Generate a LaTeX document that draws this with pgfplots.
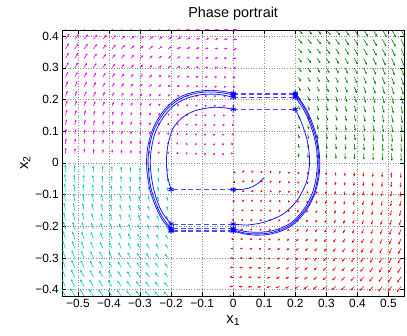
\documentclass[border=0pt]{standalone}
\usepackage{fontspec}
\setmainfont{Liberation Sans}
\usepackage{pgfplots}
\usepackage{pgfplotstable}
\pgfplotsset{compat=1.18}
\usetikzlibrary{arrows.meta,calc}

\definecolor{qgreen}{rgb}{0,0.5,0}
\definecolor{qcyan}{rgb}{0,0.78,0.78}
\definecolor{qmag}{rgb}{0.95,0,0.95}
\definecolor{qred}{rgb}{1,0,0}
\definecolor{trajblue}{rgb}{0,0,1}
\definecolor{jumpblue}{rgb}{0.3,0.3,1}

\begin{document}
% quiver grids: x y v, the u component is the y column
\pgfplotstableread{
x y v
-0.54 0.42 0.54
-0.51 0.42 0.51
-0.48 0.42 0.48
-0.45 0.42 0.45
-0.42 0.42 0.42
-0.39 0.42 0.39
-0.36 0.42 0.36
-0.33 0.42 0.33
-0.30 0.42 0.30
-0.27 0.42 0.27
-0.24 0.42 0.24
-0.21 0.42 0.21
-0.18 0.42 0.18
-0.15 0.42 0.15
-0.12 0.42 0.12
-0.09 0.42 0.09
-0.06 0.42 0.06
-0.03 0.42 0.03
0 0.42 0
-0.54 0.39 0.54
-0.51 0.39 0.51
-0.48 0.39 0.48
-0.45 0.39 0.45
-0.42 0.39 0.42
-0.39 0.39 0.39
-0.36 0.39 0.36
-0.33 0.39 0.33
-0.30 0.39 0.30
-0.27 0.39 0.27
-0.24 0.39 0.24
-0.21 0.39 0.21
-0.18 0.39 0.18
-0.15 0.39 0.15
-0.12 0.39 0.12
-0.09 0.39 0.09
-0.06 0.39 0.06
-0.03 0.39 0.03
0 0.39 0
-0.54 0.36 0.54
-0.51 0.36 0.51
-0.48 0.36 0.48
-0.45 0.36 0.45
-0.42 0.36 0.42
-0.39 0.36 0.39
-0.36 0.36 0.36
-0.33 0.36 0.33
-0.30 0.36 0.30
-0.27 0.36 0.27
-0.24 0.36 0.24
-0.21 0.36 0.21
-0.18 0.36 0.18
-0.15 0.36 0.15
-0.12 0.36 0.12
-0.09 0.36 0.09
-0.06 0.36 0.06
-0.03 0.36 0.03
0 0.36 0
-0.54 0.33 0.54
-0.51 0.33 0.51
-0.48 0.33 0.48
-0.45 0.33 0.45
-0.42 0.33 0.42
-0.39 0.33 0.39
-0.36 0.33 0.36
-0.33 0.33 0.33
-0.30 0.33 0.30
-0.27 0.33 0.27
-0.24 0.33 0.24
-0.21 0.33 0.21
-0.18 0.33 0.18
-0.15 0.33 0.15
-0.12 0.33 0.12
-0.09 0.33 0.09
-0.06 0.33 0.06
-0.03 0.33 0.03
0 0.33 0
-0.54 0.30 0.54
-0.51 0.30 0.51
-0.48 0.30 0.48
-0.45 0.30 0.45
-0.42 0.30 0.42
-0.39 0.30 0.39
-0.36 0.30 0.36
-0.33 0.30 0.33
-0.30 0.30 0.30
-0.27 0.30 0.27
-0.24 0.30 0.24
-0.21 0.30 0.21
-0.18 0.30 0.18
-0.15 0.30 0.15
-0.12 0.30 0.12
-0.09 0.30 0.09
-0.06 0.30 0.06
-0.03 0.30 0.03
0 0.30 0
-0.54 0.27 0.54
-0.51 0.27 0.51
-0.48 0.27 0.48
-0.45 0.27 0.45
-0.42 0.27 0.42
-0.39 0.27 0.39
-0.36 0.27 0.36
-0.33 0.27 0.33
-0.30 0.27 0.30
-0.27 0.27 0.27
-0.24 0.27 0.24
-0.21 0.27 0.21
-0.18 0.27 0.18
-0.15 0.27 0.15
-0.12 0.27 0.12
-0.09 0.27 0.09
-0.06 0.27 0.06
-0.03 0.27 0.03
0 0.27 0
-0.54 0.24 0.54
-0.51 0.24 0.51
-0.48 0.24 0.48
-0.45 0.24 0.45
-0.42 0.24 0.42
-0.39 0.24 0.39
-0.36 0.24 0.36
-0.33 0.24 0.33
-0.30 0.24 0.30
-0.27 0.24 0.27
-0.24 0.24 0.24
-0.21 0.24 0.21
-0.18 0.24 0.18
-0.15 0.24 0.15
-0.12 0.24 0.12
-0.09 0.24 0.09
-0.06 0.24 0.06
-0.03 0.24 0.03
0 0.24 0
-0.54 0.21 0.54
-0.51 0.21 0.51
-0.48 0.21 0.48
-0.45 0.21 0.45
-0.42 0.21 0.42
-0.39 0.21 0.39
-0.36 0.21 0.36
-0.33 0.21 0.33
-0.30 0.21 0.30
-0.27 0.21 0.27
-0.24 0.21 0.24
-0.21 0.21 0.21
-0.18 0.21 0.18
-0.15 0.21 0.15
-0.12 0.21 0.12
-0.09 0.21 0.09
-0.06 0.21 0.06
-0.03 0.21 0.03
0 0.21 0
-0.54 0.18 0.54
-0.51 0.18 0.51
-0.48 0.18 0.48
-0.45 0.18 0.45
-0.42 0.18 0.42
-0.39 0.18 0.39
-0.36 0.18 0.36
-0.33 0.18 0.33
-0.30 0.18 0.30
-0.27 0.18 0.27
-0.24 0.18 0.24
-0.21 0.18 0.21
-0.18 0.18 0.18
-0.15 0.18 0.15
-0.12 0.18 0.12
-0.09 0.18 0.09
-0.06 0.18 0.06
-0.03 0.18 0.03
0 0.18 0
-0.54 0.15 0.54
-0.51 0.15 0.51
-0.48 0.15 0.48
-0.45 0.15 0.45
-0.42 0.15 0.42
-0.39 0.15 0.39
-0.36 0.15 0.36
-0.33 0.15 0.33
-0.30 0.15 0.30
-0.27 0.15 0.27
-0.24 0.15 0.24
-0.21 0.15 0.21
-0.18 0.15 0.18
-0.15 0.15 0.15
-0.12 0.15 0.12
-0.09 0.15 0.09
-0.06 0.15 0.06
-0.03 0.15 0.03
0 0.15 0
-0.54 0.12 0.54
-0.51 0.12 0.51
-0.48 0.12 0.48
-0.45 0.12 0.45
-0.42 0.12 0.42
-0.39 0.12 0.39
-0.36 0.12 0.36
-0.33 0.12 0.33
-0.30 0.12 0.30
-0.27 0.12 0.27
-0.24 0.12 0.24
-0.21 0.12 0.21
-0.18 0.12 0.18
-0.15 0.12 0.15
-0.12 0.12 0.12
-0.09 0.12 0.09
-0.06 0.12 0.06
-0.03 0.12 0.03
0 0.12 0
-0.54 0.09 0.54
-0.51 0.09 0.51
-0.48 0.09 0.48
-0.45 0.09 0.45
-0.42 0.09 0.42
-0.39 0.09 0.39
-0.36 0.09 0.36
-0.33 0.09 0.33
-0.30 0.09 0.30
-0.27 0.09 0.27
-0.24 0.09 0.24
-0.21 0.09 0.21
-0.18 0.09 0.18
-0.15 0.09 0.15
-0.12 0.09 0.12
-0.09 0.09 0.09
-0.06 0.09 0.06
-0.03 0.09 0.03
0 0.09 0
-0.54 0.06 0.54
-0.51 0.06 0.51
-0.48 0.06 0.48
-0.45 0.06 0.45
-0.42 0.06 0.42
-0.39 0.06 0.39
-0.36 0.06 0.36
-0.33 0.06 0.33
-0.30 0.06 0.30
-0.27 0.06 0.27
-0.24 0.06 0.24
-0.21 0.06 0.21
-0.18 0.06 0.18
-0.15 0.06 0.15
-0.12 0.06 0.12
-0.09 0.06 0.09
-0.06 0.06 0.06
-0.03 0.06 0.03
0 0.06 0
-0.54 0.03 0.54
-0.51 0.03 0.51
-0.48 0.03 0.48
-0.45 0.03 0.45
-0.42 0.03 0.42
-0.39 0.03 0.39
-0.36 0.03 0.36
-0.33 0.03 0.33
-0.30 0.03 0.30
-0.27 0.03 0.27
-0.24 0.03 0.24
-0.21 0.03 0.21
-0.18 0.03 0.18
-0.15 0.03 0.15
-0.12 0.03 0.12
-0.09 0.03 0.09
-0.06 0.03 0.06
-0.03 0.03 0.03
0 0.03 0
}\magtab

\pgfplotstableread{
x y v
0 -0.03 0
0.03 -0.03 -0.03
0.06 -0.03 -0.06
0.09 -0.03 -0.09
0.12 -0.03 -0.12
0.15 -0.03 -0.15
0.18 -0.03 -0.18
0.21 -0.03 -0.21
0.24 -0.03 -0.24
0.27 -0.03 -0.27
0.30 -0.03 -0.30
0.33 -0.03 -0.33
0.36 -0.03 -0.36
0.39 -0.03 -0.39
0.42 -0.03 -0.42
0.45 -0.03 -0.45
0.48 -0.03 -0.48
0.51 -0.03 -0.51
0.54 -0.03 -0.54
0 -0.06 0
0.03 -0.06 -0.03
0.06 -0.06 -0.06
0.09 -0.06 -0.09
0.12 -0.06 -0.12
0.15 -0.06 -0.15
0.18 -0.06 -0.18
0.21 -0.06 -0.21
0.24 -0.06 -0.24
0.27 -0.06 -0.27
0.30 -0.06 -0.30
0.33 -0.06 -0.33
0.36 -0.06 -0.36
0.39 -0.06 -0.39
0.42 -0.06 -0.42
0.45 -0.06 -0.45
0.48 -0.06 -0.48
0.51 -0.06 -0.51
0.54 -0.06 -0.54
0 -0.09 0
0.03 -0.09 -0.03
0.06 -0.09 -0.06
0.09 -0.09 -0.09
0.12 -0.09 -0.12
0.15 -0.09 -0.15
0.18 -0.09 -0.18
0.21 -0.09 -0.21
0.24 -0.09 -0.24
0.27 -0.09 -0.27
0.30 -0.09 -0.30
0.33 -0.09 -0.33
0.36 -0.09 -0.36
0.39 -0.09 -0.39
0.42 -0.09 -0.42
0.45 -0.09 -0.45
0.48 -0.09 -0.48
0.51 -0.09 -0.51
0.54 -0.09 -0.54
0 -0.12 0
0.03 -0.12 -0.03
0.06 -0.12 -0.06
0.09 -0.12 -0.09
0.12 -0.12 -0.12
0.15 -0.12 -0.15
0.18 -0.12 -0.18
0.21 -0.12 -0.21
0.24 -0.12 -0.24
0.27 -0.12 -0.27
0.30 -0.12 -0.30
0.33 -0.12 -0.33
0.36 -0.12 -0.36
0.39 -0.12 -0.39
0.42 -0.12 -0.42
0.45 -0.12 -0.45
0.48 -0.12 -0.48
0.51 -0.12 -0.51
0.54 -0.12 -0.54
0 -0.15 0
0.03 -0.15 -0.03
0.06 -0.15 -0.06
0.09 -0.15 -0.09
0.12 -0.15 -0.12
0.15 -0.15 -0.15
0.18 -0.15 -0.18
0.21 -0.15 -0.21
0.24 -0.15 -0.24
0.27 -0.15 -0.27
0.30 -0.15 -0.30
0.33 -0.15 -0.33
0.36 -0.15 -0.36
0.39 -0.15 -0.39
0.42 -0.15 -0.42
0.45 -0.15 -0.45
0.48 -0.15 -0.48
0.51 -0.15 -0.51
0.54 -0.15 -0.54
0 -0.18 0
0.03 -0.18 -0.03
0.06 -0.18 -0.06
0.09 -0.18 -0.09
0.12 -0.18 -0.12
0.15 -0.18 -0.15
0.18 -0.18 -0.18
0.21 -0.18 -0.21
0.24 -0.18 -0.24
0.27 -0.18 -0.27
0.30 -0.18 -0.30
0.33 -0.18 -0.33
0.36 -0.18 -0.36
0.39 -0.18 -0.39
0.42 -0.18 -0.42
0.45 -0.18 -0.45
0.48 -0.18 -0.48
0.51 -0.18 -0.51
0.54 -0.18 -0.54
0 -0.21 0
0.03 -0.21 -0.03
0.06 -0.21 -0.06
0.09 -0.21 -0.09
0.12 -0.21 -0.12
0.15 -0.21 -0.15
0.18 -0.21 -0.18
0.21 -0.21 -0.21
0.24 -0.21 -0.24
0.27 -0.21 -0.27
0.30 -0.21 -0.30
0.33 -0.21 -0.33
0.36 -0.21 -0.36
0.39 -0.21 -0.39
0.42 -0.21 -0.42
0.45 -0.21 -0.45
0.48 -0.21 -0.48
0.51 -0.21 -0.51
0.54 -0.21 -0.54
0 -0.24 0
0.03 -0.24 -0.03
0.06 -0.24 -0.06
0.09 -0.24 -0.09
0.12 -0.24 -0.12
0.15 -0.24 -0.15
0.18 -0.24 -0.18
0.21 -0.24 -0.21
0.24 -0.24 -0.24
0.27 -0.24 -0.27
0.30 -0.24 -0.30
0.33 -0.24 -0.33
0.36 -0.24 -0.36
0.39 -0.24 -0.39
0.42 -0.24 -0.42
0.45 -0.24 -0.45
0.48 -0.24 -0.48
0.51 -0.24 -0.51
0.54 -0.24 -0.54
0 -0.27 0
0.03 -0.27 -0.03
0.06 -0.27 -0.06
0.09 -0.27 -0.09
0.12 -0.27 -0.12
0.15 -0.27 -0.15
0.18 -0.27 -0.18
0.21 -0.27 -0.21
0.24 -0.27 -0.24
0.27 -0.27 -0.27
0.30 -0.27 -0.30
0.33 -0.27 -0.33
0.36 -0.27 -0.36
0.39 -0.27 -0.39
0.42 -0.27 -0.42
0.45 -0.27 -0.45
0.48 -0.27 -0.48
0.51 -0.27 -0.51
0.54 -0.27 -0.54
0 -0.30 0
0.03 -0.30 -0.03
0.06 -0.30 -0.06
0.09 -0.30 -0.09
0.12 -0.30 -0.12
0.15 -0.30 -0.15
0.18 -0.30 -0.18
0.21 -0.30 -0.21
0.24 -0.30 -0.24
0.27 -0.30 -0.27
0.30 -0.30 -0.30
0.33 -0.30 -0.33
0.36 -0.30 -0.36
0.39 -0.30 -0.39
0.42 -0.30 -0.42
0.45 -0.30 -0.45
0.48 -0.30 -0.48
0.51 -0.30 -0.51
0.54 -0.30 -0.54
0 -0.33 0
0.03 -0.33 -0.03
0.06 -0.33 -0.06
0.09 -0.33 -0.09
0.12 -0.33 -0.12
0.15 -0.33 -0.15
0.18 -0.33 -0.18
0.21 -0.33 -0.21
0.24 -0.33 -0.24
0.27 -0.33 -0.27
0.30 -0.33 -0.30
0.33 -0.33 -0.33
0.36 -0.33 -0.36
0.39 -0.33 -0.39
0.42 -0.33 -0.42
0.45 -0.33 -0.45
0.48 -0.33 -0.48
0.51 -0.33 -0.51
0.54 -0.33 -0.54
0 -0.36 0
0.03 -0.36 -0.03
0.06 -0.36 -0.06
0.09 -0.36 -0.09
0.12 -0.36 -0.12
0.15 -0.36 -0.15
0.18 -0.36 -0.18
0.21 -0.36 -0.21
0.24 -0.36 -0.24
0.27 -0.36 -0.27
0.30 -0.36 -0.30
0.33 -0.36 -0.33
0.36 -0.36 -0.36
0.39 -0.36 -0.39
0.42 -0.36 -0.42
0.45 -0.36 -0.45
0.48 -0.36 -0.48
0.51 -0.36 -0.51
0.54 -0.36 -0.54
0 -0.39 0
0.03 -0.39 -0.03
0.06 -0.39 -0.06
0.09 -0.39 -0.09
0.12 -0.39 -0.12
0.15 -0.39 -0.15
0.18 -0.39 -0.18
0.21 -0.39 -0.21
0.24 -0.39 -0.24
0.27 -0.39 -0.27
0.30 -0.39 -0.30
0.33 -0.39 -0.33
0.36 -0.39 -0.36
0.39 -0.39 -0.39
0.42 -0.39 -0.42
0.45 -0.39 -0.45
0.48 -0.39 -0.48
0.51 -0.39 -0.51
0.54 -0.39 -0.54
0 -0.42 0
0.03 -0.42 -0.03
0.06 -0.42 -0.06
0.09 -0.42 -0.09
0.12 -0.42 -0.12
0.15 -0.42 -0.15
0.18 -0.42 -0.18
0.21 -0.42 -0.21
0.24 -0.42 -0.24
0.27 -0.42 -0.27
0.30 -0.42 -0.30
0.33 -0.42 -0.33
0.36 -0.42 -0.36
0.39 -0.42 -0.39
0.42 -0.42 -0.42
0.45 -0.42 -0.45
0.48 -0.42 -0.48
0.51 -0.42 -0.51
0.54 -0.42 -0.54
}\redtab

\pgfplotstableread{
x y v
0.21 0.42 -0.41
0.24 0.42 -0.44
0.27 0.42 -0.47
0.30 0.42 -0.50
0.33 0.42 -0.53
0.36 0.42 -0.56
0.39 0.42 -0.59
0.42 0.42 -0.62
0.45 0.42 -0.65
0.48 0.42 -0.68
0.51 0.42 -0.71
0.54 0.42 -0.74
0.21 0.39 -0.41
0.24 0.39 -0.44
0.27 0.39 -0.47
0.30 0.39 -0.50
0.33 0.39 -0.53
0.36 0.39 -0.56
0.39 0.39 -0.59
0.42 0.39 -0.62
0.45 0.39 -0.65
0.48 0.39 -0.68
0.51 0.39 -0.71
0.54 0.39 -0.74
0.21 0.36 -0.41
0.24 0.36 -0.44
0.27 0.36 -0.47
0.30 0.36 -0.50
0.33 0.36 -0.53
0.36 0.36 -0.56
0.39 0.36 -0.59
0.42 0.36 -0.62
0.45 0.36 -0.65
0.48 0.36 -0.68
0.51 0.36 -0.71
0.54 0.36 -0.74
0.21 0.33 -0.41
0.24 0.33 -0.44
0.27 0.33 -0.47
0.30 0.33 -0.50
0.33 0.33 -0.53
0.36 0.33 -0.56
0.39 0.33 -0.59
0.42 0.33 -0.62
0.45 0.33 -0.65
0.48 0.33 -0.68
0.51 0.33 -0.71
0.54 0.33 -0.74
0.21 0.30 -0.41
0.24 0.30 -0.44
0.27 0.30 -0.47
0.30 0.30 -0.50
0.33 0.30 -0.53
0.36 0.30 -0.56
0.39 0.30 -0.59
0.42 0.30 -0.62
0.45 0.30 -0.65
0.48 0.30 -0.68
0.51 0.30 -0.71
0.54 0.30 -0.74
0.21 0.27 -0.41
0.24 0.27 -0.44
0.27 0.27 -0.47
0.30 0.27 -0.50
0.33 0.27 -0.53
0.36 0.27 -0.56
0.39 0.27 -0.59
0.42 0.27 -0.62
0.45 0.27 -0.65
0.48 0.27 -0.68
0.51 0.27 -0.71
0.54 0.27 -0.74
0.21 0.24 -0.41
0.24 0.24 -0.44
0.27 0.24 -0.47
0.30 0.24 -0.50
0.33 0.24 -0.53
0.36 0.24 -0.56
0.39 0.24 -0.59
0.42 0.24 -0.62
0.45 0.24 -0.65
0.48 0.24 -0.68
0.51 0.24 -0.71
0.54 0.24 -0.74
0.21 0.21 -0.41
0.24 0.21 -0.44
0.27 0.21 -0.47
0.30 0.21 -0.50
0.33 0.21 -0.53
0.36 0.21 -0.56
0.39 0.21 -0.59
0.42 0.21 -0.62
0.45 0.21 -0.65
0.48 0.21 -0.68
0.51 0.21 -0.71
0.54 0.21 -0.74
0.21 0.18 -0.41
0.24 0.18 -0.44
0.27 0.18 -0.47
0.30 0.18 -0.50
0.33 0.18 -0.53
0.36 0.18 -0.56
0.39 0.18 -0.59
0.42 0.18 -0.62
0.45 0.18 -0.65
0.48 0.18 -0.68
0.51 0.18 -0.71
0.54 0.18 -0.74
0.21 0.15 -0.41
0.24 0.15 -0.44
0.27 0.15 -0.47
0.30 0.15 -0.50
0.33 0.15 -0.53
0.36 0.15 -0.56
0.39 0.15 -0.59
0.42 0.15 -0.62
0.45 0.15 -0.65
0.48 0.15 -0.68
0.51 0.15 -0.71
0.54 0.15 -0.74
0.21 0.12 -0.41
0.24 0.12 -0.44
0.27 0.12 -0.47
0.30 0.12 -0.50
0.33 0.12 -0.53
0.36 0.12 -0.56
0.39 0.12 -0.59
0.42 0.12 -0.62
0.45 0.12 -0.65
0.48 0.12 -0.68
0.51 0.12 -0.71
0.54 0.12 -0.74
0.21 0.09 -0.41
0.24 0.09 -0.44
0.27 0.09 -0.47
0.30 0.09 -0.50
0.33 0.09 -0.53
0.36 0.09 -0.56
0.39 0.09 -0.59
0.42 0.09 -0.62
0.45 0.09 -0.65
0.48 0.09 -0.68
0.51 0.09 -0.71
0.54 0.09 -0.74
0.21 0.06 -0.41
0.24 0.06 -0.44
0.27 0.06 -0.47
0.30 0.06 -0.50
0.33 0.06 -0.53
0.36 0.06 -0.56
0.39 0.06 -0.59
0.42 0.06 -0.62
0.45 0.06 -0.65
0.48 0.06 -0.68
0.51 0.06 -0.71
0.54 0.06 -0.74
0.21 0.03 -0.41
0.24 0.03 -0.44
0.27 0.03 -0.47
0.30 0.03 -0.50
0.33 0.03 -0.53
0.36 0.03 -0.56
0.39 0.03 -0.59
0.42 0.03 -0.62
0.45 0.03 -0.65
0.48 0.03 -0.68
0.51 0.03 -0.71
0.54 0.03 -0.74
}\greentab

\pgfplotstableread{
x y v
-0.54 -0.03 0.74
-0.51 -0.03 0.71
-0.48 -0.03 0.68
-0.45 -0.03 0.65
-0.42 -0.03 0.62
-0.39 -0.03 0.59
-0.36 -0.03 0.56
-0.33 -0.03 0.53
-0.30 -0.03 0.50
-0.27 -0.03 0.47
-0.24 -0.03 0.44
-0.21 -0.03 0.41
-0.54 -0.06 0.74
-0.51 -0.06 0.71
-0.48 -0.06 0.68
-0.45 -0.06 0.65
-0.42 -0.06 0.62
-0.39 -0.06 0.59
-0.36 -0.06 0.56
-0.33 -0.06 0.53
-0.30 -0.06 0.50
-0.27 -0.06 0.47
-0.24 -0.06 0.44
-0.21 -0.06 0.41
-0.54 -0.09 0.74
-0.51 -0.09 0.71
-0.48 -0.09 0.68
-0.45 -0.09 0.65
-0.42 -0.09 0.62
-0.39 -0.09 0.59
-0.36 -0.09 0.56
-0.33 -0.09 0.53
-0.30 -0.09 0.50
-0.27 -0.09 0.47
-0.24 -0.09 0.44
-0.21 -0.09 0.41
-0.54 -0.12 0.74
-0.51 -0.12 0.71
-0.48 -0.12 0.68
-0.45 -0.12 0.65
-0.42 -0.12 0.62
-0.39 -0.12 0.59
-0.36 -0.12 0.56
-0.33 -0.12 0.53
-0.30 -0.12 0.50
-0.27 -0.12 0.47
-0.24 -0.12 0.44
-0.21 -0.12 0.41
-0.54 -0.15 0.74
-0.51 -0.15 0.71
-0.48 -0.15 0.68
-0.45 -0.15 0.65
-0.42 -0.15 0.62
-0.39 -0.15 0.59
-0.36 -0.15 0.56
-0.33 -0.15 0.53
-0.30 -0.15 0.50
-0.27 -0.15 0.47
-0.24 -0.15 0.44
-0.21 -0.15 0.41
-0.54 -0.18 0.74
-0.51 -0.18 0.71
-0.48 -0.18 0.68
-0.45 -0.18 0.65
-0.42 -0.18 0.62
-0.39 -0.18 0.59
-0.36 -0.18 0.56
-0.33 -0.18 0.53
-0.30 -0.18 0.50
-0.27 -0.18 0.47
-0.24 -0.18 0.44
-0.21 -0.18 0.41
-0.54 -0.21 0.74
-0.51 -0.21 0.71
-0.48 -0.21 0.68
-0.45 -0.21 0.65
-0.42 -0.21 0.62
-0.39 -0.21 0.59
-0.36 -0.21 0.56
-0.33 -0.21 0.53
-0.30 -0.21 0.50
-0.27 -0.21 0.47
-0.24 -0.21 0.44
-0.21 -0.21 0.41
-0.54 -0.24 0.74
-0.51 -0.24 0.71
-0.48 -0.24 0.68
-0.45 -0.24 0.65
-0.42 -0.24 0.62
-0.39 -0.24 0.59
-0.36 -0.24 0.56
-0.33 -0.24 0.53
-0.30 -0.24 0.50
-0.27 -0.24 0.47
-0.24 -0.24 0.44
-0.21 -0.24 0.41
-0.54 -0.27 0.74
-0.51 -0.27 0.71
-0.48 -0.27 0.68
-0.45 -0.27 0.65
-0.42 -0.27 0.62
-0.39 -0.27 0.59
-0.36 -0.27 0.56
-0.33 -0.27 0.53
-0.30 -0.27 0.50
-0.27 -0.27 0.47
-0.24 -0.27 0.44
-0.21 -0.27 0.41
-0.54 -0.30 0.74
-0.51 -0.30 0.71
-0.48 -0.30 0.68
-0.45 -0.30 0.65
-0.42 -0.30 0.62
-0.39 -0.30 0.59
-0.36 -0.30 0.56
-0.33 -0.30 0.53
-0.30 -0.30 0.50
-0.27 -0.30 0.47
-0.24 -0.30 0.44
-0.21 -0.30 0.41
-0.54 -0.33 0.74
-0.51 -0.33 0.71
-0.48 -0.33 0.68
-0.45 -0.33 0.65
-0.42 -0.33 0.62
-0.39 -0.33 0.59
-0.36 -0.33 0.56
-0.33 -0.33 0.53
-0.30 -0.33 0.50
-0.27 -0.33 0.47
-0.24 -0.33 0.44
-0.21 -0.33 0.41
-0.54 -0.36 0.74
-0.51 -0.36 0.71
-0.48 -0.36 0.68
-0.45 -0.36 0.65
-0.42 -0.36 0.62
-0.39 -0.36 0.59
-0.36 -0.36 0.56
-0.33 -0.36 0.53
-0.30 -0.36 0.50
-0.27 -0.36 0.47
-0.24 -0.36 0.44
-0.21 -0.36 0.41
-0.54 -0.39 0.74
-0.51 -0.39 0.71
-0.48 -0.39 0.68
-0.45 -0.39 0.65
-0.42 -0.39 0.62
-0.39 -0.39 0.59
-0.36 -0.39 0.56
-0.33 -0.39 0.53
-0.30 -0.39 0.50
-0.27 -0.39 0.47
-0.24 -0.39 0.44
-0.21 -0.39 0.41
-0.54 -0.42 0.74
-0.51 -0.42 0.71
-0.48 -0.42 0.68
-0.45 -0.42 0.65
-0.42 -0.42 0.62
-0.39 -0.42 0.59
-0.36 -0.42 0.56
-0.33 -0.42 0.53
-0.30 -0.42 0.50
-0.27 -0.42 0.47
-0.24 -0.42 0.44
-0.21 -0.42 0.41
}\cyantab

\pgfplotsset{
  field/.style={mark=none, line width=0.6pt, -{Latex[length=2.4pt,width=2.2pt]},
    quiver={u=\thisrow{y}, v=\thisrow{v}, scale arrows=0.034}},
  traj/.style={trajblue, mark=none, line width=0.8pt, smooth, opacity=0.9},
  jump/.style={jumpblue, line width=1pt, dash pattern=on 5pt off 3pt,
    mark=asterisk, mark size=3pt, mark options={solid, trajblue, line width=0.8pt}},
}

\begin{tikzpicture}
\begin{axis}[
  scale only axis,
  width=344pt, height=268pt,
  xmin=-0.55, xmax=0.55, ymin=-0.42, ymax=0.42,
  xtick={-0.5,-0.4,-0.3,-0.2,-0.1,0,0.1,0.2,0.3,0.4,0.5},
  xticklabels={−0.5,−0.4,−0.3,−0.2,−0.1,0,0.1,0.2,0.3,0.4,0.5},
  ytick={-0.4,-0.3,-0.2,-0.1,0,0.1,0.2,0.3,0.4},
  yticklabels={−0.4,−0.3,−0.2,−0.1,0,0.1,0.2,0.3,0.4},
  tick align=inside,
  major tick length=4pt,
  tick style={black, line width=0.4pt},
  ticklabel style={font=\fontsize{12}{14}\selectfont},
  grid=major,
  major grid style={dash pattern=on 0.6pt off 2pt, black!45, line width=0.4pt},
  axis line style={black, line width=0.5pt},
  title={Phase portrait},
  title style={font=\fontsize{14.5}{16}\selectfont},
  xlabel={x\textsubscript{1}},
  ylabel={x\textsubscript{2}},
  label style={font=\fontsize{15}{17}\selectfont},
  xlabel style={yshift=-1pt},
  ylabel style={yshift=-2pt},
]

\addplot[field, qmag] table {\magtab};
\addplot[field, qgreen] table {\greentab};
\addplot[field, qcyan] table {\cyantab};
\addplot[field, qred] table {\redtab};

% trajectory: arcs and switching jumps
\addplot[traj] coordinates {(0.099,-0.047) (0.082,-0.063) (0.062,-0.075) (0.035,-0.083) (0,-0.084)};
\addplot[jump] coordinates {(0,-0.084) (-0.2,-0.084)};
\addplot[traj] coordinates {(-0.2,-0.084) (-0.211,-0.045) (-0.215,0.005) (-0.210,0.057) (-0.194,0.108) (-0.164,0.143) (-0.122,0.165) (-0.069,0.175) (-0.030,0.174) (0,0.169)};
\addplot[jump] coordinates {(0,0.169) (0.2,0.169)};
\addplot[traj] coordinates {(0.2,0.169) (0.221,0.125) (0.240,0.063) (0.246,0.0) (0.236,-0.060) (0.206,-0.118) (0.160,-0.162) (0.100,-0.187) (0.045,-0.196) (0,-0.193)};
\addplot[jump] coordinates {(0,-0.193) (-0.2,-0.193)};
\addplot[traj] coordinates {(-0.2,-0.193) (-0.216,-0.174) (-0.232,-0.150) (-0.246,-0.116) (-0.257,-0.079) (-0.264,-0.037) (-0.267,0.005) (-0.263,0.047) (-0.253,0.090) (-0.235,0.128) (-0.212,0.160) (-0.183,0.187) (-0.149,0.204) (-0.111,0.214) (-0.073,0.217) (-0.038,0.215) (0,0.207)};
\addplot[jump] coordinates {(0,0.207) (0.2,0.207)};
\addplot[traj] coordinates {(0.2,0.207) (0.218,0.182) (0.235,0.153) (0.249,0.119) (0.261,0.081) (0.269,0.038) (0.271,-0.005) (0.267,-0.048) (0.256,-0.092) (0.238,-0.130) (0.214,-0.163) (0.185,-0.190) (0.150,-0.207) (0.111,-0.217) (0.072,-0.219) (0.036,-0.216) (0,-0.207)};
\addplot[jump] coordinates {(0,-0.207) (-0.2,-0.207)};
\addplot[traj] coordinates {(-0.2,-0.207) (-0.219,-0.184) (-0.237,-0.155) (-0.251,-0.121) (-0.264,-0.083) (-0.271,-0.039) (-0.274,0.005) (-0.270,0.049) (-0.259,0.094) (-0.240,0.133) (-0.216,0.166) (-0.186,0.193) (-0.151,0.211) (-0.112,0.221) (-0.073,0.224) (-0.036,0.221) (0,0.215)};
\addplot[jump] coordinates {(0,0.215) (0.2,0.215)};
\addplot[traj] coordinates {(0.2,0.215) (0.220,0.187) (0.238,0.157) (0.252,0.122) (0.265,0.083) (0.273,0.039) (0.276,-0.005) (0.272,-0.049) (0.261,-0.094) (0.242,-0.133) (0.217,-0.166) (0.187,-0.194) (0.151,-0.212) (0.112,-0.222) (0.072,-0.224) (0.036,-0.221) (0,-0.212)};
\addplot[jump] coordinates {(0,-0.212) (-0.2,-0.212)};
\addplot[traj] coordinates {(-0.2,-0.212) (-0.222,-0.188) (-0.240,-0.159) (-0.255,-0.124) (-0.268,-0.085) (-0.276,-0.040) (-0.279,0.005) (-0.275,0.050) (-0.263,0.096) (-0.244,0.136) (-0.219,0.170) (-0.188,0.198) (-0.152,0.216) (-0.112,0.226) (-0.072,0.229) (-0.035,0.226) (0,0.220)};
\addplot[jump] coordinates {(0,0.220) (0.2,0.220)};
\addplot[traj] coordinates {(0.2,0.220) (0.222,0.190) (0.240,0.160) (0.255,0.125) (0.268,0.085) (0.276,0.040) (0.279,-0.005) (0.275,-0.050) (0.263,-0.096) (0.244,-0.136) (0.219,-0.170) (0.188,-0.198) (0.152,-0.216) (0.112,-0.226) (0.072,-0.228) (0.035,-0.224) (0,-0.215)};
\addplot[jump] coordinates {(0,-0.215) (-0.2,-0.215)};
\end{axis}
\pgfresetboundingbox
\useasboundingbox ($(current axis.south west)+(-60pt,-40pt)$) rectangle ($(current axis.north east)+(3pt,30pt)$);
\end{tikzpicture}
\end{document}
